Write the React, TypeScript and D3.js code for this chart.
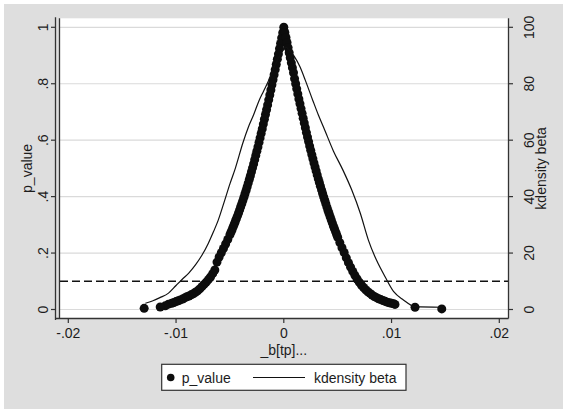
import React from "react";
import * as d3 from "d3";

const xTicks = [-0.02, -0.01, 0, 0.01, 0.02];
const xTickLabels = ["-.02", "-.01", "0", ".01", ".02"];
const yTicks = [0, 0.2, 0.4, 0.6, 0.8, 1];
const yTickLabels = ["0", ".2", ".4", ".6", ".8", "1"];
const y2Ticks = [0, 20, 40, 60, 80, 100];
const y2TickLabels = ["0", "20", "40", "60", "80", "100"];
const threshold = 0.1;

// scatter: beta estimate vs p_value (left branch then right branch)
const betaX = [
  0, -0.0001, -0.0002, -0.0003, -0.0004, -0.0005, -0.0006, -0.0007, -0.0008, -0.0009,
  -0.001, -0.0011, -0.0012, -0.0013, -0.0014, -0.0015, -0.0016, -0.0017, -0.0018, -0.0019,
  -0.002, -0.0021, -0.0022, -0.0023, -0.0024, -0.0025, -0.0026, -0.0027, -0.0028, -0.0029,
  -0.003, -0.0031, -0.0032, -0.0033, -0.0034, -0.0035, -0.0036, -0.0037, -0.0038, -0.0039,
  -0.004, -0.0041, -0.0042, -0.0043, -0.0044, -0.0045, -0.0046, -0.0047, -0.0048, -0.0049,
  -0.005, -0.0052, -0.0054, -0.0056, -0.0058, -0.006, -0.0062, -0.0064, -0.0066, -0.0068,
  -0.007, -0.0072, -0.0074, -0.0076, -0.0078, -0.008, -0.0082, -0.0084, -0.0086, -0.0088,
  -0.009, -0.0092, -0.0094, -0.0096, -0.0098, -0.01, -0.0102, -0.0104, -0.0107, -0.011,
  -0.01147, -0.01296,
  0.0001, 0.0002, 0.0003, 0.0004, 0.0005, 0.0006, 0.0007, 0.0008, 0.0009,
  0.001, 0.0011, 0.0012, 0.0013, 0.0014, 0.0015, 0.0016, 0.0017, 0.0018, 0.0019,
  0.002, 0.0021, 0.0022, 0.0023, 0.0024, 0.0025, 0.0026, 0.0027, 0.0028, 0.0029,
  0.003, 0.0031, 0.0032, 0.0033, 0.0034, 0.0035, 0.0036, 0.0037, 0.0038, 0.0039,
  0.004, 0.0041, 0.0042, 0.0043, 0.0044, 0.0045, 0.0046, 0.0047, 0.0048, 0.0049,
  0.005, 0.0052, 0.0054, 0.0056, 0.0058, 0.006, 0.0062, 0.0064, 0.0066, 0.0068,
  0.007, 0.0072, 0.0074, 0.0076, 0.0078, 0.008, 0.0082, 0.0084, 0.0086, 0.0088,
  0.009, 0.0092, 0.0094, 0.0096, 0.0098, 0.01, 0.0102, 0.01032, 0.01218, 0.01466,
];
const pValue = [
  1.0, 0.981, 0.962, 0.943, 0.924, 0.905, 0.887, 0.868, 0.85, 0.832,
  0.814, 0.796, 0.778, 0.76, 0.743, 0.725, 0.708, 0.691, 0.674, 0.657,
  0.64, 0.624, 0.608, 0.592, 0.576, 0.561, 0.546, 0.531, 0.516, 0.502,
  0.488, 0.474, 0.461, 0.448, 0.435, 0.422, 0.41, 0.398, 0.386, 0.375,
  0.364, 0.353, 0.342, 0.332, 0.322, 0.312, 0.302, 0.293, 0.283, 0.274,
  0.265, 0.248, 0.232, 0.216, 0.201, 0.186, 0.168, 0.14, 0.127, 0.115,
  0.106, 0.097, 0.089, 0.081, 0.073, 0.066, 0.061, 0.056, 0.052, 0.048,
  0.045, 0.041, 0.037, 0.034, 0.031, 0.028, 0.025, 0.022, 0.019, 0.013,
  0.009, 0.004,
  0.982, 0.964, 0.946, 0.928, 0.91, 0.892, 0.874, 0.857, 0.839,
  0.818, 0.8, 0.782, 0.764, 0.746, 0.729, 0.712, 0.695, 0.678, 0.661,
  0.644, 0.627, 0.611, 0.595, 0.579, 0.564, 0.549, 0.534, 0.519, 0.505,
  0.491, 0.477, 0.463, 0.45, 0.437, 0.424, 0.411, 0.399, 0.387, 0.375,
  0.363, 0.351, 0.34, 0.329, 0.318, 0.307, 0.296, 0.286, 0.276, 0.266,
  0.256, 0.237, 0.219, 0.202, 0.183, 0.166, 0.15, 0.135, 0.121, 0.108,
  0.097, 0.087, 0.078, 0.07, 0.063, 0.057, 0.051, 0.046, 0.042, 0.038,
  0.035, 0.032, 0.029, 0.026, 0.024, 0.022, 0.02, 0.018, 0.0078, 0.002,
];

// kernel density of beta
const kdX = [
  -0.01285, -0.0122, -0.0115, -0.0107, -0.01, -0.0094, -0.0088, -0.0082, -0.0076, -0.007,
  -0.0065, -0.0061, -0.0055, -0.005, -0.0045, -0.0038, -0.0033, -0.0028, -0.0023, -0.0019,
  -0.0013, -0.0008, -0.0003, 0.0002, 0.0006, 0.001, 0.0015, 0.002, 0.0027, 0.0032,
  0.0037, 0.0046, 0.0055, 0.0063, 0.0071, 0.00785, 0.0086, 0.0094, 0.0102, 0.0111,
  0.01218, 0.01466,
];
const kdY = [
  2.2, 3.0, 4.2, 5.8, 8.5, 10.8, 13.0, 15.8, 19.2, 23.5,
  27.8, 31.5, 38.5, 44.5, 50.0, 59.0, 64.5, 69.0, 74.0, 77.2,
  82.0, 86.7, 90.5, 93.0, 91.5, 89.5, 86.0, 81.2, 74.0, 69.0,
  64.5, 56.2, 49.3, 42.4, 34.1, 24.6, 17.5, 11.6, 6.3, 3.4,
  1.0, 0.8,
];

const W = 567;
const H = 414;
const FONT = "'Liberation Sans', Arial, Helvetica, sans-serif";
const TXT = "#1c1c1c";
const AX = "#333";

export default function App() {
  const plotL = 60, plotR = 508.5, plotT = 18.3, plotB = 318.5;
  const x = d3.scaleLinear().domain([-0.02, 0.02]).range([68.3, 499.3]);
  const y = d3.scaleLinear().domain([0, 1]).range([309.5, 27.3]);
  const y2 = d3.scaleLinear().domain([0, 100]).range([309.5, 27.3]);

  const kd = kdX.map((v, i) => [v, kdY[i]] as [number, number]);
  const line = d3
    .line<[number, number]>()
    .x((d) => x(d[0]))
    .y((d) => y2(d[1]))
    .curve(d3.curveMonotoneX);

  const axLeft = 55.5;
  const yc = (y(0) + y(1)) / 2;

  return (
    <svg
      width={W}
      height={H}
      style={{ position: "absolute", left: 0, top: 0, fontFamily: FONT }}
    >
      <rect x={0} y={0} width={W} height={H} fill="#ffffff" />
      <rect x={4} y={4} width={559} height={405} fill="#dedede" />
      <rect x={plotL} y={plotT} width={plotR - plotL} height={plotB - plotT} fill="#ffffff" />

      {/* gridlines */}
      {yTicks.map((t) => (
        <line key={"g" + t} x1={plotL} x2={plotR} y1={y(t)} y2={y(t)} stroke="#dadada" strokeWidth={1.2} />
      ))}

      {/* threshold dashed line */}
      <line
        x1={plotL}
        x2={plotR}
        y1={y(threshold)}
        y2={y(threshold)}
        stroke="#111"
        strokeWidth={1.5}
        strokeDasharray="8,4"
      />

      {/* scatter */}
      {betaX.map((b, i) => (
        <circle key={"p" + i} cx={x(b)} cy={y(pValue[i])} r={4.5} fill="#0d0d0d" />
      ))}

      {/* kdensity line */}
      <path d={line(kd) || ""} fill="none" stroke="#111" strokeWidth={1.2} />

      {/* axes */}
      <line x1={axLeft} x2={axLeft} y1={plotT - 1} y2={plotB + 1.5} stroke={AX} strokeWidth={1.3} />
      <line x1={plotL - 0.5} x2={plotL - 0.5} y1={plotT} y2={plotB} stroke={AX} strokeWidth={1.3} />
      <line x1={axLeft} x2={plotR} y1={plotB} y2={plotB} stroke={AX} strokeWidth={1.3} />
      <line x1={plotR} x2={plotR} y1={plotT} y2={plotB} stroke={AX} strokeWidth={1.3} />

      {yTicks.map((t, i) => (
        <g key={"yl" + t}>
          <line x1={axLeft - 4.5} x2={axLeft} y1={y(t)} y2={y(t)} stroke={AX} strokeWidth={1.2} />
          <text
            x={43}
            y={y(t)}
            transform={`rotate(-90, 43, ${y(t)})`}
            textAnchor="middle"
            dominantBaseline="central"
            fontSize={14}
            fill={TXT}
          >
            {yTickLabels[i]}
          </text>
        </g>
      ))}

      {y2Ticks.map((t, i) => (
        <g key={"yr" + t}>
          <line x1={plotR} x2={plotR + 4.5} y1={y2(t)} y2={y2(t)} stroke={AX} strokeWidth={1.2} />
          <text
            x={529}
            y={y2(t)}
            transform={`rotate(-90, 529, ${y2(t)})`}
            textAnchor="middle"
            dominantBaseline="central"
            fontSize={14}
            fill={TXT}
          >
            {y2TickLabels[i]}
          </text>
        </g>
      ))}

      {xTicks.map((t, i) => (
        <g key={"x" + t}>
          <line x1={x(t)} x2={x(t)} y1={plotB} y2={plotB + 4.5} stroke={AX} strokeWidth={1.2} />
          <text x={x(t)} y={333} textAnchor="middle" dominantBaseline="central" fontSize={14} fill={TXT}>
            {xTickLabels[i]}
          </text>
        </g>
      ))}

      {/* axis titles */}
      <text
        x={27}
        y={yc}
        transform={`rotate(-90, 27, ${yc})`}
        textAnchor="middle"
        dominantBaseline="central"
        fontSize={14}
        fill={TXT}
      >
        p_value
      </text>
      <text
        x={541}
        y={yc}
        transform={`rotate(-90, 541, ${yc})`}
        textAnchor="middle"
        dominantBaseline="central"
        fontSize={14}
        fill={TXT}
      >
        kdensity beta
      </text>
      <text x={x(0)} y={349.5} textAnchor="middle" dominantBaseline="central" fontSize={14} fill={TXT}>
        _b[tp]...
      </text>

      {/* legend */}
      <rect x={161.7} y={364.3} width={244.3} height={26} fill="#ffffff" stroke={AX} strokeWidth={1.2} />
      <circle cx={170.7} cy={377.5} r={3.8} fill="#0d0d0d" />
      <text x={181.7} y={378} dominantBaseline="central" fontSize={14} fill={TXT}>
        p_value
      </text>
      <line x1={253} x2={305} y1={377.5} y2={377.5} stroke="#111" strokeWidth={1.2} />
      <text x={314} y={378} dominantBaseline="central" fontSize={14} fill={TXT}>
        kdensity beta
      </text>
    </svg>
  );
}
